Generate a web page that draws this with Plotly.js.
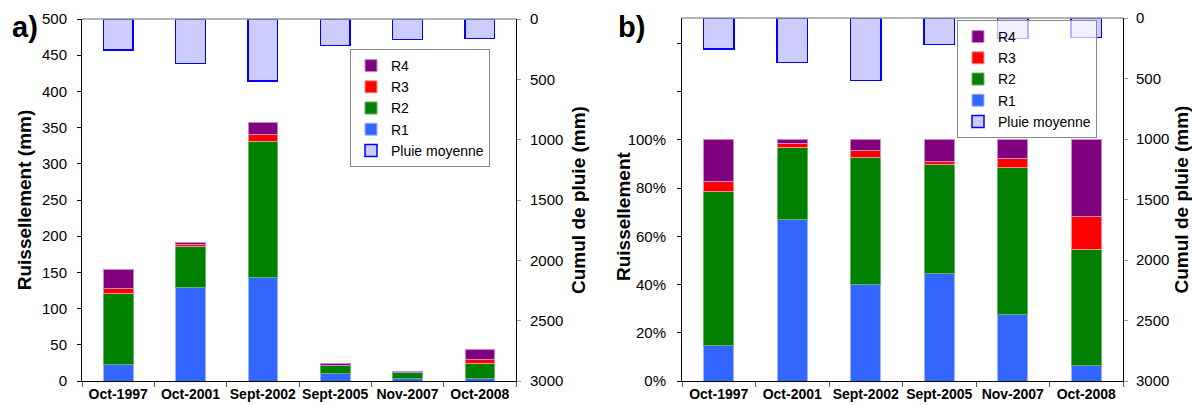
<!DOCTYPE html>
<html>
<head>
<meta charset="utf-8">
<script src="https://cdn.plot.ly/plotly-3.0.1.min.js"></script>
<style>html,body{margin:0;padding:0;background:#fff}#chart{width:1192px;height:405px}</style>
</head>
<body>
<div id="chart"></div>
<script>
// ---- data ----
const categories = ['Oct-1997', 'Oct-2001', 'Sept-2002', 'Sept-2005', 'Nov-2007', 'Oct-2008'];
// Ruissellement (mm) per class
const R1 = [22.8, 128.6, 142.6, 10.5, 3.6, 2.8];
const R2 = [98.2, 57.0, 188.2, 10.7, 7.9, 20.8];
const R3 = [6.2, 3.6, 9.3, 0.3, 0.5, 5.9];
const R4 = [26.8, 2.7, 16.4, 2.1, 1.0, 13.8];
// Pluie moyenne : cumul de pluie (mm)
const pluie = [256, 367, 515, 218, 168, 161];
const pctTicks = [0, 0.2, 0.4, 0.6, 0.8, 1.0, 1.2, 1.4];
const pctLabels = ['0%', '20%', '40%', '60%', '80%', '100%', '', ''];

// ---- derived: share of each class in the total (panel b) ----
const totals = categories.map((c, i) => R1[i] + R2[i] + R3[i] + R4[i]);
const share = arr => arr.map((v, i) => v / totals[i]);

const FONT = 'Arial, "Liberation Sans", sans-serif';
const series = [
  {name: 'R1', y: R1, color: '#3366FF', line: '#9DB3FF', rank: 4},
  {name: 'R2', y: R2, color: '#008000', line: '#66B366', rank: 3},
  {name: 'R3', y: R3, color: '#FF0000', line: '#FF8C8C', rank: 2},
  {name: 'R4', y: R4, color: '#800080', line: '#C58CC5', rank: 1}
];
const BW = 0.41;
const traces = [];
series.forEach(s => {
  traces.push({type: 'bar', name: s.name, x: categories, y: s.y, xaxis: 'x', yaxis: 'y',
    width: BW, marker: {color: s.color, line: {color: s.line, width: 1}},
    legend: 'legend', legendrank: s.rank, hoverinfo: 'x+y+name'});
});
traces.push({type: 'bar', name: 'Pluie moyenne', x: categories, y: pluie, xaxis: 'x', yaxis: 'y2',
  width: BW, marker: {color: '#CCCCFF', line: {color: '#0000FF', width: 1.5}},
  legend: 'legend', legendrank: 5});
series.forEach(s => {
  traces.push({type: 'bar', name: s.name, x: categories, y: share(s.y), xaxis: 'x2', yaxis: 'y3',
    width: BW, marker: {color: s.color, line: {color: s.line, width: 1}},
    legend: 'legend2', legendrank: s.rank});
});
traces.push({type: 'bar', name: 'Pluie moyenne', x: categories, y: pluie, xaxis: 'x2', yaxis: 'y4',
  width: BW, marker: {color: '#CCCCFF', line: {color: '#0000FF', width: 1.5}},
  legend: 'legend2', legendrank: 5});

const W = 1192, H = 405;
const px = v => v / W, py = v => (H - v) / H;

const xCommon = {type: 'category', tickson: 'boundaries', ticks: 'outside', ticklen: 5,
  tickcolor: '#555', showline: true, linecolor: '#000', linewidth: 1, showgrid: false,
  tickangle: 0, ticklabelstandoff: 0,
  tickfont: {family: FONT, size: 14, color: '#000', weight: 'bold'}, fixedrange: true};
const yLeft = {ticks: 'outside', ticklen: 4, tickcolor: '#000', showline: true, linecolor: '#000',
  linewidth: 1, showgrid: false, zeroline: false, tickfont: {family: FONT, size: 15, color: '#000'}};
const yRight = {side: 'right', autorange: false, range: [3000, 0], dtick: 500, tick0: 0,
  ticks: 'outside', ticklen: 4, tickcolor: '#999', showline: true, linecolor: '#000', linewidth: 1,
  showgrid: false, zeroline: false, tickfont: {family: FONT, size: 15, color: '#000'}};
const titleFont = {family: FONT, size: 19, color: '#000', weight: 'bold'};

const layout = {
  width: W, height: H, margin: {l: 0, r: 0, t: 0, b: 0},
  paper_bgcolor: '#fff', plot_bgcolor: '#fff',
  barmode: 'stack', font: {family: FONT, color: '#000'},
  xaxis: Object.assign({}, xCommon, {domain: [px(82), px(516)], anchor: 'y'}),
  yaxis: Object.assign({}, yLeft, {domain: [py(381), py(19)], anchor: 'x', range: [0, 500], dtick: 50,
    ticklabelstandoff: 7, title: {text: 'Ruissellement (mm)', font: titleFont, standoff: 5}}),
  yaxis2: Object.assign({}, yRight, {overlaying: 'y', anchor: 'x', ticklabelstandoff: 6,
    title: {text: 'Cumul de pluie (mm)', font: titleFont, standoff: 9}}),
  xaxis2: Object.assign({}, xCommon, {domain: [px(682), px(1123)], anchor: 'y3'}),
  yaxis3: Object.assign({}, yLeft, {domain: [py(381), py(18)], anchor: 'x2', range: [0, 1.505],
    tickmode: 'array', tickvals: pctTicks, ticktext: pctLabels, ticklabelstandoff: 8}),
  yaxis4: Object.assign({}, yRight, {overlaying: 'y3', anchor: 'x2', ticklabelstandoff: 5,
    title: {text: 'Cumul de pluie (mm)', font: titleFont, standoff: 9}}),
  legend: {x: px(350), y: py(49), xanchor: 'left', yanchor: 'top', bgcolor: 'rgba(255,255,255,0.8)',
    bordercolor: '#888', borderwidth: 1, font: {family: FONT, size: 14, color: '#000'},
    traceorder: 'normal', itemclick: false},
  legend2: {x: px(957), y: py(20), xanchor: 'left', yanchor: 'top', bgcolor: 'rgba(255,255,255,0.7)',
    bordercolor: '#888', borderwidth: 1, font: {family: FONT, size: 14, color: '#000'},
    traceorder: 'normal', itemclick: false},
  shapes: [
    {type: 'line', xref: 'x domain', yref: 'y domain', x0: 0, x1: 1, y0: 1, y1: 1,
     line: {color: '#9a9a9a', width: 1.5}},
    {type: 'line', xref: 'x2 domain', yref: 'y3 domain', x0: 0, x1: 1, y0: 1, y1: 1,
     line: {color: '#9a9a9a', width: 1.5}}
  ],
  annotations: [
    {text: 'a)', xref: 'paper', yref: 'paper', x: px(10), y: py(27), xanchor: 'left', yanchor: 'middle',
     showarrow: false, font: {family: FONT, size: 29, color: '#000', weight: 'bold'}},
    {text: 'b)', xref: 'paper', yref: 'paper', x: px(616), y: py(27), xanchor: 'left', yanchor: 'middle',
     showarrow: false, font: {family: FONT, size: 29, color: '#000', weight: 'bold'}},
    {text: 'Ruissellement', xref: 'paper', yref: 'paper', x: px(623), y: py(217), xanchor: 'center',
     yanchor: 'middle', textangle: -90, showarrow: false, font: titleFont}
  ],
  showlegend: true
};

Plotly.newPlot('chart', traces, layout, {displayModeBar: false, staticPlot: true});
</script>
</body>
</html>
